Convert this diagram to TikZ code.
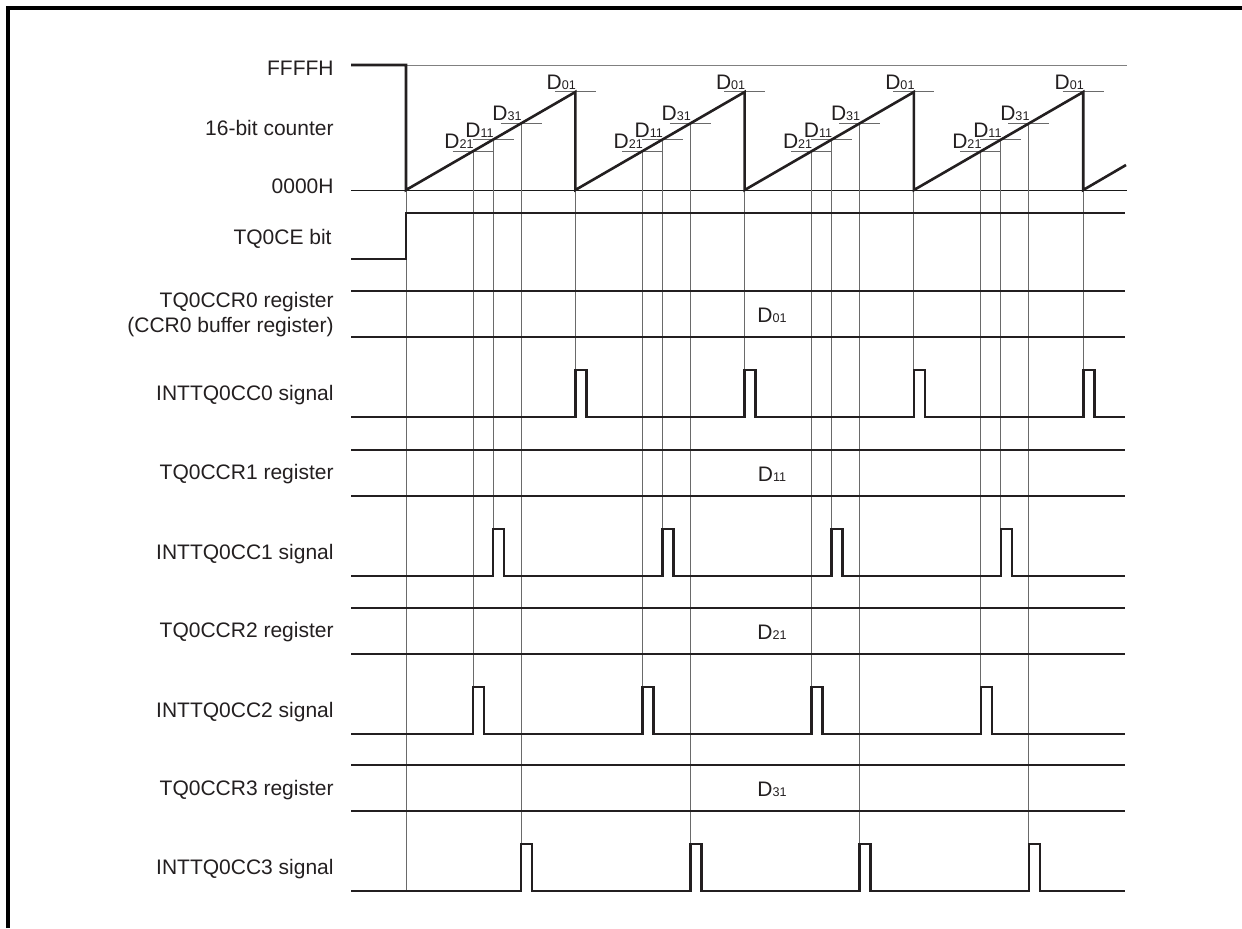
\documentclass[tikz,border=0pt]{standalone}
\usepackage{fontspec}
\setmainfont{Liberation Sans}
\usepackage{tikz}
\definecolor{wavecol}{HTML}{231F20}
\definecolor{gridcol}{HTML}{6A6A6A}
\newcommand{\Dsub}[1]{D{\fontsize{6.3}{7}\selectfont #1}}

\begin{document}
\begin{tikzpicture}[x=0.5pt, y=-0.5pt,
    thk/.style={line width=1.3pt, color=wavecol},
    thn/.style={line width=0.5pt, color=gridcol},
    lbl/.style={anchor=base east, inner sep=0pt, font=\fontsize{10.5}{12.6}\selectfont, text=wavecol}]
  \useasboundingbox (0,0) rectangle (1242,928);
  \draw[line width=1.6pt] (8,928) -- (8,8) -- (1242,8);

  % 16-bit counter and TQ0CE
  \node[lbl] (lffff) at (334,75) {FFFFH};
  \node[lbl] (lcnt) at (334,135) {16-bit counter};
  \node[lbl] (lzero) at (334,193) {0000H};
  \node[lbl] (lce) at (332,244) {TQ0CE bit};
  \draw[thn, black!50] (406,65) -- (1127,65);
  \draw[thn, black!90] (351,190) -- (1127,190);
  \draw[thn] (406,65) -- (406,891);
  \foreach \k in {0,...,3}{
    \foreach \n/\dx/\yb in {21/67/687, 11/87/529, 31/115/844, 01/169.3/370}{
      \pgfmathsetmacro\xx{406+169.3*\k+\dx}
      \pgfmathsetmacro\yy{190-0.5789*\dx}
      \draw[thn] (\xx-20.5,\yy) -- (\xx+20.5,\yy);
      \draw[thn] (\xx,\yy) -- (\xx,\yb);
      \node[lbl] (d\n-\k) at (\xx+1,\yy-2.5) {\Dsub{\n}};
    }
  }
  \draw[thk] (351,65) -- (406,65) -- (406,190)
    foreach \k in {1,...,4}{ -- ({406+169.3*\k},92) -- ({406+169.3*\k},190) }
    -- (1126,165);
  \draw[thk] (351,259) -- (406,259) -- (406,213) -- (1125,213);

  % compare registers and interrupt signals
  \node[lbl] (lreg0) at (334,307) {TQ0CCR0 register};
  \node[lbl] (lbuf0) at (334,332) {(CCR0 buffer register)};
  \node[lbl] (lreg1) at (334,479) {TQ0CCR1 register};
  \node[lbl] (lreg2) at (334,637) {TQ0CCR2 register};
  \node[lbl] (lreg3) at (334,795) {TQ0CCR3 register};
  \foreach \r/\yt/\dx in {0/291/169.3, 1/450/87, 2/608/67, 3/765/115}{
    \draw[thk] (351,\yt) -- (1125,\yt);
    \draw[thk] (351,\yt+46) -- (1125,\yt+46);
    \node[lbl, anchor=base] (val\r) at (772,\yt+31) {\Dsub{\r1}};
    \node[lbl] (lsig\r) at (334,\yt+109) {INTTQ0CC\r{} signal};
    \draw[thk] (351,\yt+126)
      foreach \k in {0,...,3}{ -- ({406+169.3*\k+\dx},\yt+126) -- ++(0,-47) -- ++(11,0) -- ++(0,47) }
      -- (1125,\yt+126);
  }
\end{tikzpicture}
\end{document}
